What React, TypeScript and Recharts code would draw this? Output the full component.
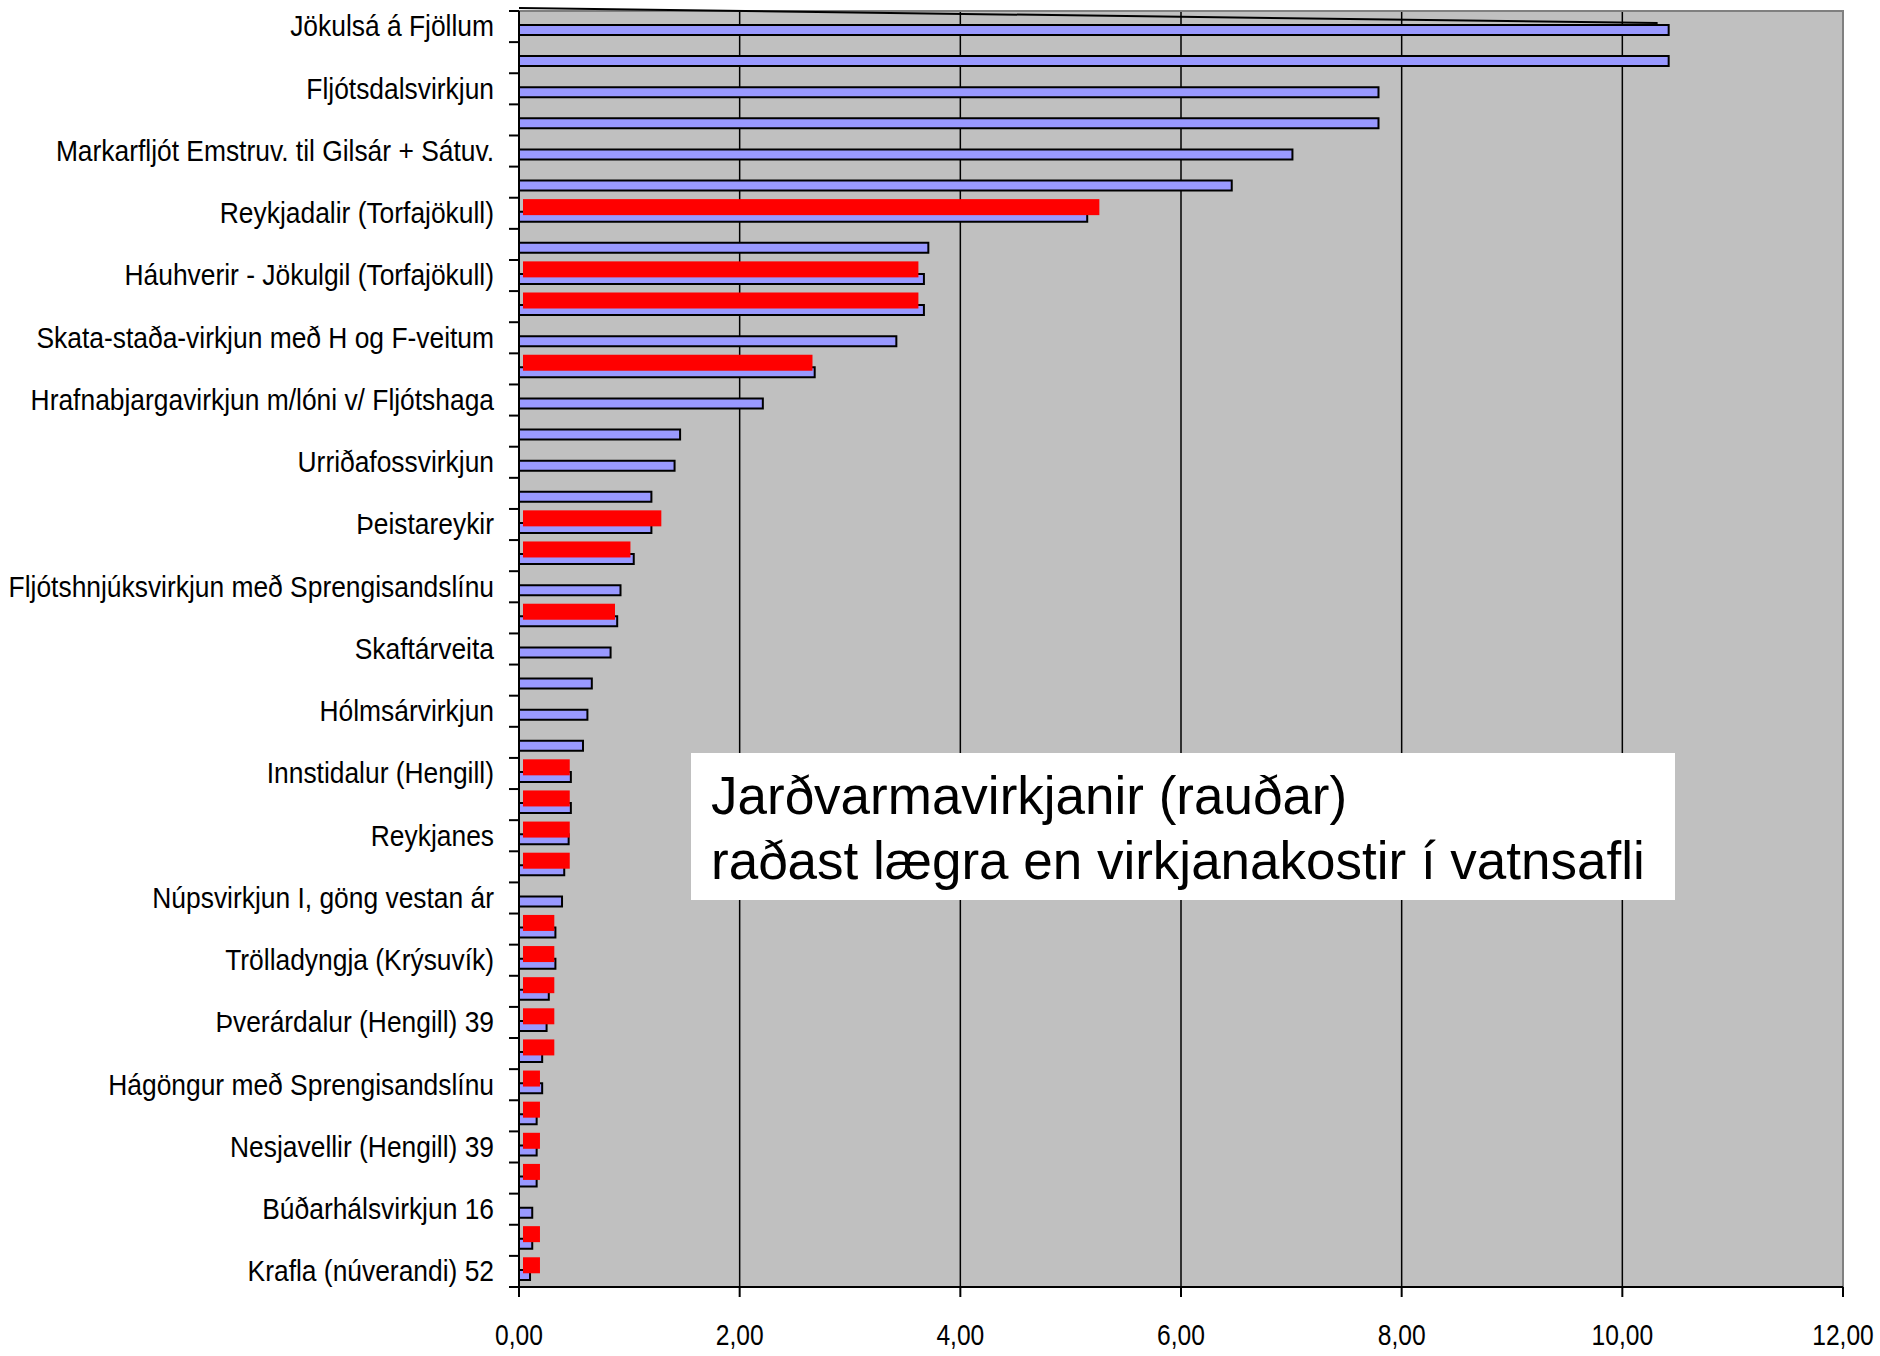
import { BarChart, Bar, XAxis, YAxis, CartesianGrid, ReferenceArea, ReferenceLine } from "recharts";

// Category labels, top to bottom (Excel only printed every second one)
const labels = [
    "Jökulsá á Fjöllum", "",
    "Fljótsdalsvirkjun", "",
    "Markarfljót  Emstruv. til Gilsár + Sátuv.", "",
    "Reykjadalir (Torfajökull)", "",
    "Háuhverir - Jökulgil (Torfajökull)", "",
    "Skata-staða-virkjun með H og F-veitum", "",
    "Hrafnabjargavirkjun m/lóni v/ Fljótshaga", "",
    "Urriðafossvirkjun", "",
    "Þeistareykir", "",
    "Fljótshnjúksvirkjun með Sprengisandslínu", "",
    "Skaftárveita", "",
    "Hólmsárvirkjun", "",
    "Innstidalur (Hengill)", "",
    "Reykjanes", "",
    "Núpsvirkjun I, göng vestan ár", "",
    "Trölladyngja (Krýsuvík)", "",
    "Þverárdalur (Hengill) 39", "",
    "Hágöngur með Sprengisandslínu", "",
    "Nesjavellir (Hengill) 39", "",
    "Búðarhálsvirkjun 16", "",
    "Krafla (núverandi) 52",
];

// blue series (all options)
const hydro = [
    10.42, 10.42, 7.79, 7.79, 7.01, 6.46, 5.15, 3.71, 3.67, 3.67,
    3.42, 2.68, 2.21, 1.46, 1.41, 1.2, 1.2, 1.04, 0.92, 0.89,
    0.83, 0.66, 0.62, 0.58, 0.47, 0.47, 0.45, 0.41, 0.39, 0.33,
    0.33, 0.27, 0.25, 0.21, 0.21, 0.16, 0.16, 0.16, 0.12, 0.12,
    0.1,
];

// red series (geothermal)
const geothermal = [
    null, null, null, null, null, null, 5.26, null, 3.62, 3.62,
    null, 2.66, null, null, null, null, 1.29, 1.01, null, 0.87,
    null, null, null, null, 0.46, 0.46, 0.46, 0.46, null, 0.32,
    0.32, 0.32, 0.32, 0.32, 0.19, 0.19, 0.19, 0.19, null, 0.19,
    0.19,
];

const xTicks = [0, 2, 4, 6, 8, 10, 12];

const W = 1880;
const H = 1356;
const MARGIN = { top: 11, right: 37, bottom: 0, left: 0 };
const Y_AXIS_W = 519;
const X_AXIS_H = 69;
const BAND = (H - MARGIN.top - MARGIN.bottom - X_AXIS_H) / labels.length;
const FONT = '"Liberation Sans", Arial, sans-serif';

const data = labels.map((label, i) => ({
    id: i,
    label,
    hydro: hydro[i],
    geo: geothermal[i],
}));

function YTick(props: any) {
    const { x, y, payload, index } = props;
    const axisX = x + 25; // tickMargin + tickSize
    const label = labels[payload.value];
    return (
        <g>
            {/* Excel puts tick marks between categories */}
            <line x1={axisX - 10} x2={axisX} y1={y - BAND / 2} y2={y - BAND / 2} stroke="#000" strokeWidth={2} />
            {index === labels.length - 1 && (
                <line x1={axisX - 10} x2={axisX} y1={y + BAND / 2} y2={y + BAND / 2} stroke="#000" strokeWidth={2} />
            )}
            {label && (
                <text
                    transform={`translate(${x},${y}) scale(0.91,1)`}
                    textAnchor="end"
                    dominantBaseline="central"
                    fontSize={29}
                    fontFamily={FONT}
                    fill="#000"
                >
                    {label}
                </text>
            )}
        </g>
    );
}

function XTick(props: any) {
    const { x, y, payload } = props;
    return (
        <text
            transform={`translate(${x},${y + 36}) scale(0.82,1)`}
            textAnchor="middle"
            dominantBaseline="central"
            fontSize={30}
            fontFamily={FONT}
            fill="#000"
        >
            {Number(payload.value).toFixed(2).replace(".", ",")}
        </text>
    );
}

// red bars start a few px right of the axis
function GeoShape(props: any) {
    const { x, y, width, height } = props;
    if (!width || width <= 4) return <g />;
    return <rect x={x + 4} y={y} width={width - 4} height={height} fill="#FF0000" />;
}

function DiagLine(props: any) {
    const { x1, y1, x2, y2 } = props;
    return <line x1={x1} y1={y1 - 18.5} x2={x2} y2={y2 - 3.5} stroke="#000" strokeWidth={2} />;
}

export default function App() {
    return (
        <div style={{ position: "absolute", left: 0, top: 0, width: W, height: H, background: "#fff" }}>
            <BarChart width={W} height={H} data={data} layout="vertical" margin={MARGIN} barGap={-22.6}>
                <CartesianGrid horizontal={false} stroke="#000" strokeWidth={1.5} fill="#C0C0C0" fillOpacity={1} />
                <XAxis
                    type="number"
                    domain={[0, 12]}
                    ticks={xTicks}
                    interval={0}
                    height={X_AXIS_H}
                    axisLine={{ stroke: "#000", strokeWidth: 2 }}
                    tickLine={{ stroke: "#000", strokeWidth: 2 }}
                    tickSize={10}
                    tick={<XTick />}
                />
                <YAxis
                    type="category"
                    dataKey="id"
                    width={Y_AXIS_W}
                    interval={0}
                    axisLine={{ stroke: "#000", strokeWidth: 2 }}
                    tickLine={false}
                    tickSize={10}
                    tickMargin={15}
                    tick={<YTick />}
                />
                <ReferenceArea x1={0} x2={12} fill="none" stroke="#808080" strokeWidth={2} />
                <Bar
                    dataKey="hydro"
                    barSize={10}
                    fill="#9999FF"
                    stroke="#000"
                    strokeWidth={2}
                    isAnimationActive={false}
                />
                <Bar dataKey="geo" barSize={16} fill="#FF0000" shape={GeoShape} isAnimationActive={false} />
                <ReferenceLine
                    segment={[{ x: 0, y: 0 }, { x: 10.32, y: 0 }]}
                    ifOverflow="visible"
                    shape={DiagLine}
                />
            </BarChart>
            <div
                style={{
                    position: "absolute",
                    left: 691,
                    top: 753,
                    width: 984,
                    height: 147,
                    boxSizing: "border-box",
                    background: "#fff",
                    padding: "10px 0 0 20px",
                    fontFamily: FONT,
                    fontSize: 53,
                    lineHeight: "65px",
                    color: "#000",
                    whiteSpace: "nowrap",
                }}
            >
                Jarðvarmavirkjanir (rauðar)
                <br />
                raðast lægra en virkjanakostir í vatnsafli
            </div>
        </div>
    );
}
